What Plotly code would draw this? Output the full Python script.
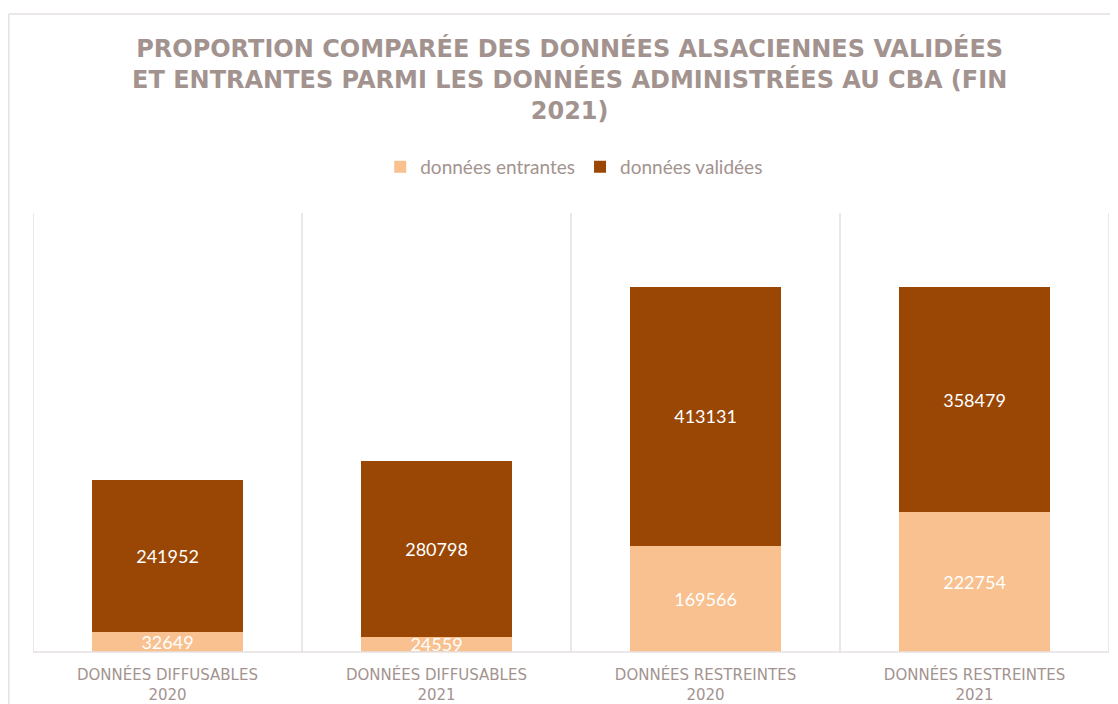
import plotly.graph_objects as go

categories = ["DONNÉES DIFFUSABLES<br>2020", "DONNÉES DIFFUSABLES<br>2021",
              "DONNÉES RESTREINTES<br>2020", "DONNÉES RESTREINTES<br>2021"]
entrantes = [32649, 24559, 169566, 222754]
validees = [241952, 280798, 413131, 358479]

col_entr = "#F9C18F"
col_val = "#9A4705"
txt_col = "#A3938F"

W, H = 1110, 696  # page body adds an 8px margin
ML, MR, MT, MB = 25, 9, 205, 52
PW, PH = W - ML - MR, H - MT - MB

def px_x(fx):
    return (fx - ML) / PW

def px_y(fy):
    return (H - MB - fy) / PH

fig = go.Figure()
fig.add_trace(go.Bar(x=categories, y=entrantes, name="données entrantes",
                     marker=dict(color=col_entr, line=dict(width=0)),
                     text=entrantes, texttemplate="%{text}", textposition="inside",
                     insidetextanchor="middle", constraintext="none",
                     textfont=dict(color="white", size=18, family="Lato")))
fig.add_trace(go.Bar(x=categories, y=validees, name="données validées",
                     marker=dict(color=col_val, line=dict(width=0)),
                     text=validees, texttemplate="%{text}", textposition="inside",
                     insidetextanchor="middle", constraintext="none",
                     textfont=dict(color="white", size=18, family="Lato")))

grid = "#E6E1E1"
shapes = []
for xv in [-0.5, 0.5, 1.5, 2.5, 3.5]:
    shapes.append(dict(type="line", xref="x", yref="paper", x0=xv, x1=xv, y0=0, y1=1,
                       line=dict(color=grid, width=1.5), layer="below"))
shapes.append(dict(type="line", xref="paper", yref="paper", x0=0, x1=1, y0=0, y1=0,
                   line=dict(color=grid, width=1.5), layer="above"))
# outer frame
shapes.append(dict(type="line", xref="paper", yref="paper", x0=px_x(0.75), x1=px_x(0.75),
                   y0=px_y(H + 5), y1=px_y(6), line=dict(color=grid, width=1.5)))
shapes.append(dict(type="line", xref="paper", yref="paper", x0=px_x(0.75), x1=px_x(W + 5),
                   y0=px_y(6), y1=px_y(6), line=dict(color=grid, width=1.5)))

fig.update_layout(
    width=W, height=H,
    barmode="stack", bargap=0.44,
    paper_bgcolor="white", plot_bgcolor="white",
    margin=dict(l=ML, r=MR, t=MT, b=MB),
    title=dict(text="PROPORTION COMPARÉE DES DONNÉES ALSACIENNES VALIDÉES<br>ET ENTRANTES PARMI LES DONNÉES ADMINISTRÉES AU CBA (FIN<br>2021)",
               x=0.506, xanchor="center", y=0.93, yanchor="top",
               font=dict(family="DejaVu Sans", size=24, color=txt_col, weight="bold")),
    legend=dict(orientation="h", x=0.503, xanchor="center", y=px_y(159), yanchor="middle",
                font=dict(family="Lato", size=19, color=txt_col), traceorder="normal",
                itemwidth=30),
    uniformtext=dict(minsize=18, mode="show"),
    xaxis=dict(showgrid=False, showline=False, ticks="", ticklabelstandoff=12, automargin=False,
               tickfont=dict(family="DejaVu Sans", size=15, color=txt_col),
               range=[-0.5, 3.5]),
    yaxis=dict(range=[0, 700000], showgrid=False, showticklabels=False, zeroline=False,
               showline=False, automargin=False),
    shapes=shapes,
    showlegend=True,
)

fig.write_html("out.html")
